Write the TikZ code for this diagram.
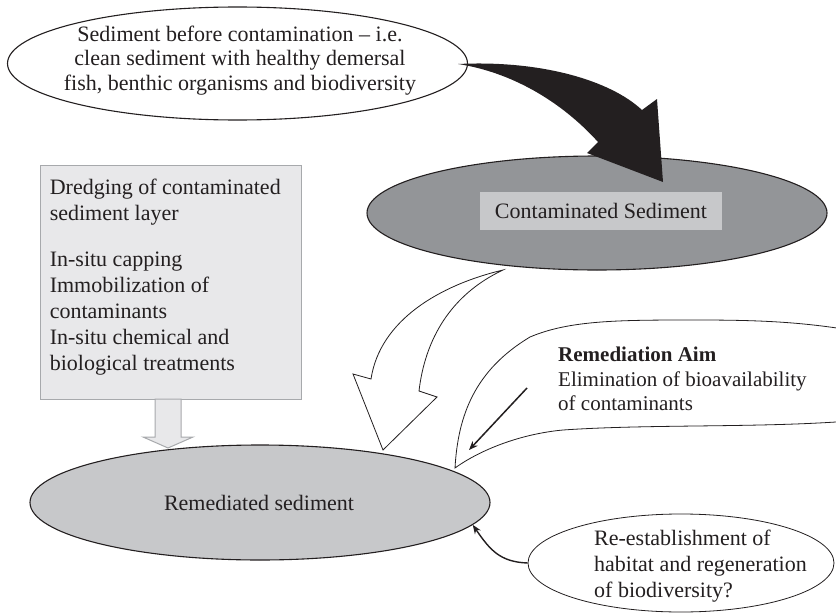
\documentclass[tikz,border=0pt]{standalone}
\usepackage{fontspec}
\setmainfont{Liberation Serif}
\usetikzlibrary{shapes.geometric,arrows.meta,calc}
\definecolor{ink}{HTML}{231F20}
\definecolor{darkfill}{HTML}{939598}
\definecolor{midfill}{HTML}{C7C8CA}
\definecolor{palefill}{HTML}{E8E8EA}
\definecolor{paleline}{HTML}{A7A9AC}
\begin{document}
\begin{tikzpicture}[x=1pt,y=-1pt,
  oval/.style={ellipse, draw=ink, line width=1.1pt, inner sep=0pt},
  txt/.style={inner sep=0pt, text=ink, font=\fontsize{22}{26}\selectfont},
  thinline/.style={draw=ink, line width=0.8pt, line join=miter},
  pointer/.style={draw=ink, line width=1.5pt, -{Stealth[length=9pt,width=7pt]}}
]
\useasboundingbox (0,0) rectangle (836,613);
\begin{scope}
\clip (0,0) rectangle (836,613);

% ellipses
\node[oval, fill=white, minimum width=460pt, minimum height=113pt] (before) at (237.5,63.5) {};
\node[oval, fill=darkfill, minimum width=460pt, minimum height=114pt] (cont) at (597,213) {};
\node[oval, fill=midfill, minimum width=460pt, minimum height=115pt] (rem) at (260,502.5) {};
\node[oval, fill=white, line width=0.8pt, minimum width=306pt, minimum height=98pt] (reest) at (681,563) {};

% texts inside the ellipses
\node[txt, align=center, font=\fontsize{22}{24.5}\selectfont] (beforetext) at (240,60.5)
  {Sediment before contamination – i.e.\\clean sediment with healthy demersal\\fish, benthic organisms and biodiversity};
\node[txt, fill=midfill, minimum width=242pt, minimum height=38pt] (contlabel) at (601,210.5) {Contaminated Sediment};
\node[txt] (remtext) at (259,502.5) {Remediated sediment};
\node[txt, anchor=north west, align=left] (reesttext) at (594,530)
  {Re-establishment of\\habitat and regeneration\\of biodiversity?};

% remediation options box
\node[draw=paleline, fill=palefill, line width=1pt, minimum width=261pt, minimum height=234pt, anchor=north west, inner sep=0pt] (treat) at (40,165) {};
\node[txt, anchor=north west, align=left] (treattext) at (49.6,179)
  {Dredging of contaminated\\sediment layer\\[20pt]In-situ capping\\Immobilization of\\contaminants\\In-situ chemical and\\biological treatments};

% block arrow from the box down to the remediated sediment
\draw[draw=paleline, fill=palefill, line width=1pt]
  (155,399) -- (181,399) -- (181,437) -- (193,437) -- (168,448) -- (143,437) -- (155,437) -- cycle;

% black curved arrow: clean sediment -> contaminated sediment
\fill[ink] (458,64) .. controls (540,60) and (610,80) .. (642,110)
  -- (657,99) -- (663,182) -- (587,153) -- (598,142)
  .. controls (560,100) and (510,72) .. (458,64) -- cycle;

% hollow curved arrow: contaminated -> remediated
\draw[thinline, fill=white] (503,270) .. controls (440,285) and (380,320) .. (371,379)
  -- (353,374) -- (383,450) -- (437,397) -- (419,391)
  .. controls (425,340) and (450,295) .. (503,270) -- cycle;

% callout with the remediation aim
\draw[thinline, fill=white] (455,468) .. controls (458,415) and (475,370) .. (530,337)
  .. controls (570,320) and (620,320) .. (697,320)
  .. controls (760,320) and (800,322) .. (850,330)
  -- (850,421)
  .. controls (760,428) and (650,424) .. (563,430)
  .. controls (520,434) and (480,450) .. (455,468) -- cycle;
\node[txt, anchor=north west, align=left, font=\fontsize{21}{24.5}\selectfont] (aimtext) at (558,347)
  {\textbf{Remediation Aim}\\Elimination of bioavailability\\of contaminants};
\coordinate (aimfrom) at (527,388);
\coordinate (aimto) at (469,450);
\draw[pointer] (aimfrom) -- (aimto);

% regeneration -> remediated sediment
\draw[pointer, line width=1.4pt] (reest.west) .. controls (500,562) and (490,550) .. (rem.-6);
\end{scope}
\end{tikzpicture}
\end{document}
